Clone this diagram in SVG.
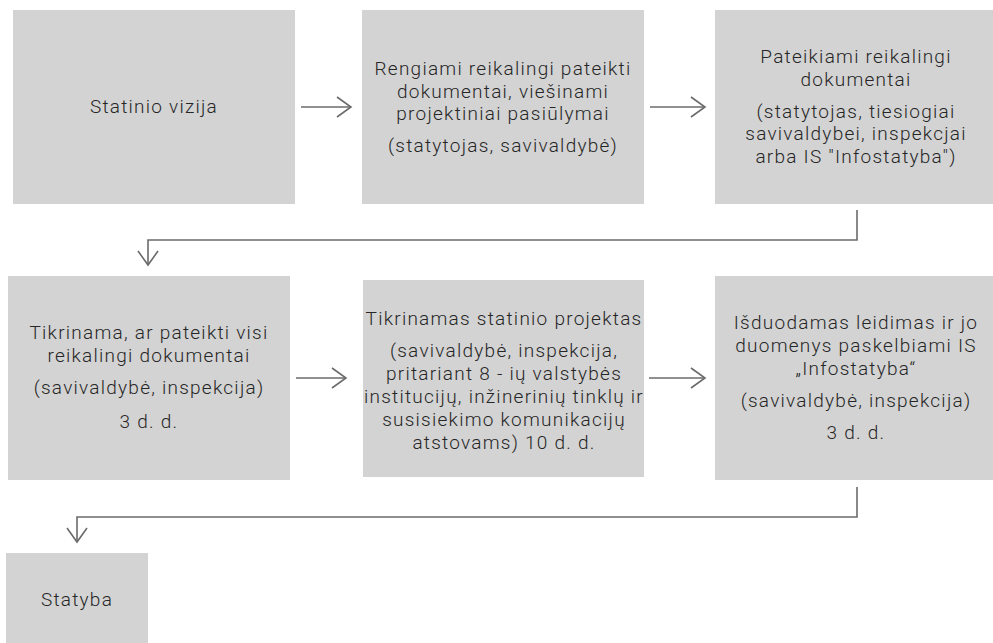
<svg xmlns="http://www.w3.org/2000/svg" width="993" height="643" viewBox="0 0 993 643">
<defs>
<style>
.box{fill:#d3d3d3;}
text{font-family:Roboto,"Open Sans",sans-serif;font-weight:300;font-size:19px;letter-spacing:1.25px;fill:#262626;text-anchor:middle;}
.conn{fill:none;stroke:#6b6b6b;stroke-width:1.6;}
</style>
<marker id="arr" markerUnits="userSpaceOnUse" viewBox="-15 -11 17 22" refX="0" refY="0" markerWidth="17" markerHeight="22" orient="auto">
<path d="M-14,-10 L0,0 L-14,10" fill="none" stroke="#6b6b6b" stroke-width="1.6"/>
</marker>
</defs>
<rect width="993" height="643" fill="#ffffff"/>
<g id="n1"><rect class="box" x="13" y="10" width="282" height="194"/>
<text x="154" y="113">Statinio vizija</text></g>
<g id="n2"><rect class="box" x="362" y="10" width="282" height="194"/>
<text x="503" y="75">Rengiami reikalingi pateikti</text>
<text x="503" y="98">dokumentai, viešinami</text>
<text x="503" y="120">projektiniai pasiūlymai</text>
<text x="503" y="152">(statytojas, savivaldybė)</text></g>
<g id="n3"><rect class="box" x="715" y="10" width="282" height="194"/>
<text x="856" y="63">Pateikiami reikalingi</text>
<text x="856" y="86">dokumentai</text>
<text x="856" y="118">(statytojas, tiesiogiai</text>
<text x="856" y="140">savivaldybei, inspekcjai</text>
<text x="856" y="163">arba IS "Infostatyba")</text></g>
<g id="n4"><rect class="box" x="8" y="276" width="282" height="204"/>
<text x="149" y="339">Tikrinama, ar pateikti visi</text>
<text x="149" y="362">reikalingi dokumentai</text>
<text x="149" y="394">(savivaldybė, inspekcija)</text>
<text x="149" y="428">3 d. d.</text></g>
<g id="n5"><rect class="box" x="363" y="280" width="281" height="197"/>
<text x="504" y="325">Tikrinamas statinio projektas</text>
<text x="504" y="357">(savivaldybė, inspekcija,</text>
<text x="504" y="380">pritariant 8 - ių valstybės</text>
<text x="504" y="403">institucijų, inžinerinių tinklų ir</text>
<text x="504" y="426">susisiekimo komunikacijų</text>
<text x="504" y="449">atstovams) 10 d. d.</text></g>
<g id="n6"><rect class="box" x="715" y="276" width="282" height="204"/>
<text x="856" y="329">Išduodamas leidimas ir jo</text>
<text x="856" y="352">duomenys paskelbiami IS</text>
<text x="856" y="375">„Infostatyba“</text>
<text x="856" y="407">(savivaldybė, inspekcija)</text>
<text x="856" y="439">3 d. d.</text></g>
<g id="n7"><rect class="box" x="6" y="553" width="142" height="95"/>
<text x="77" y="606">Statyba</text></g>
<g id="connectors">
<path class="conn" d="M301,107 H351" marker-end="url(#arr)"/>
<path class="conn" d="M650,107 H705" marker-end="url(#arr)"/>
<path class="conn" d="M857,210 V240 H148 V265" marker-end="url(#arr)"/>
<path class="conn" d="M296,378 H346" marker-end="url(#arr)"/>
<path class="conn" d="M649,378 H705" marker-end="url(#arr)"/>
<path class="conn" d="M857,487 V517 H77 V542" marker-end="url(#arr)"/>
</g>
</svg>
